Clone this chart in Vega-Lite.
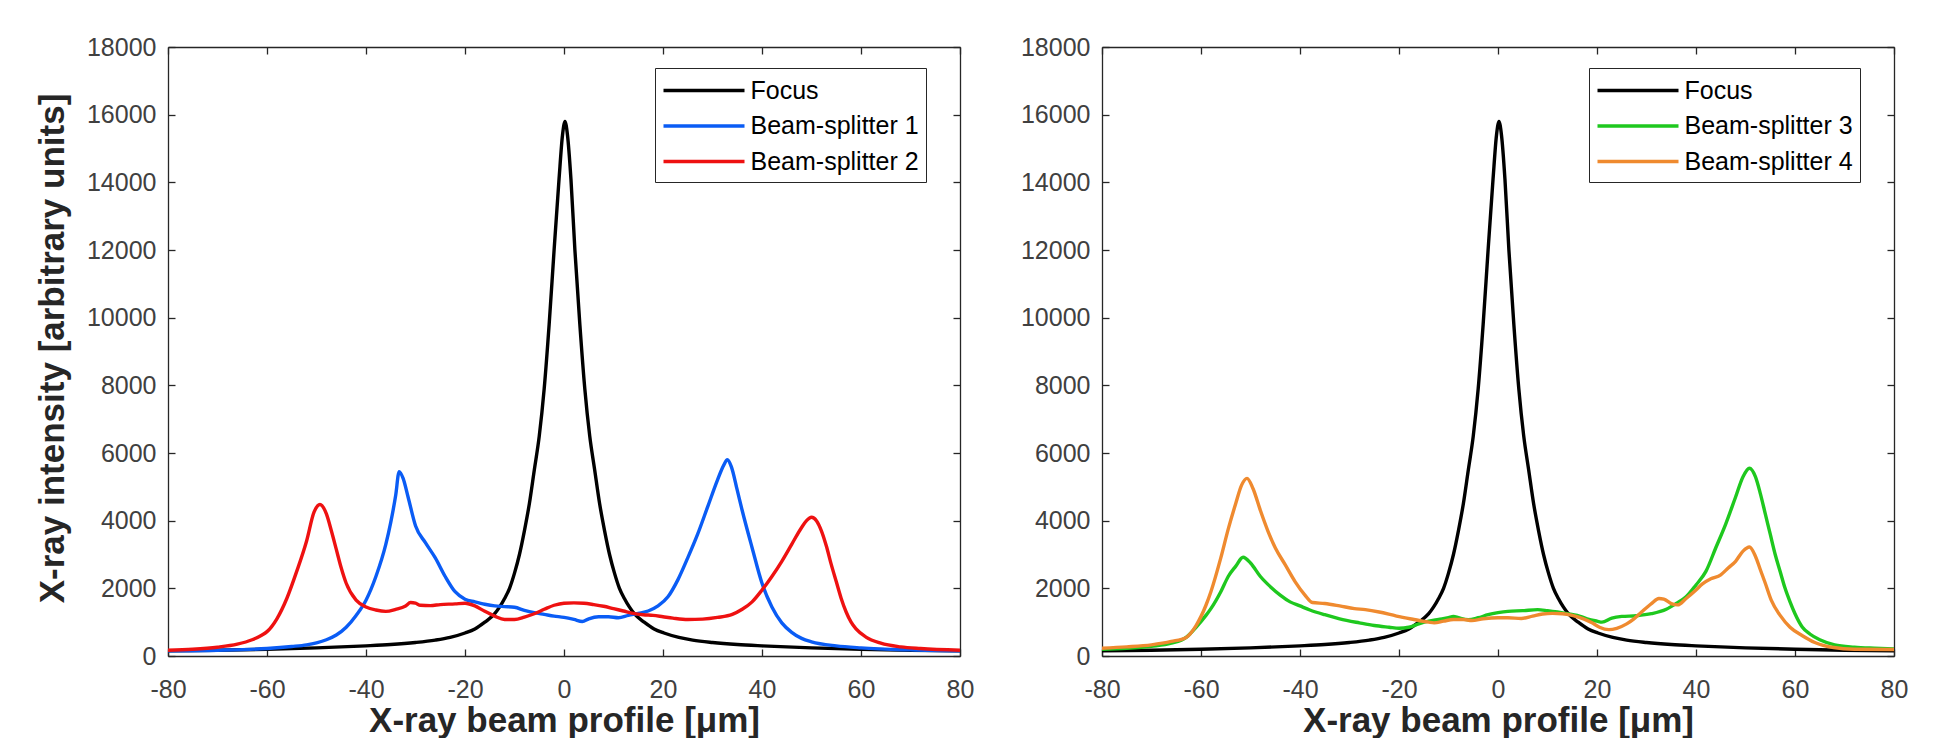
{
  "$schema": "https://vega.github.io/schema/vega-lite/v6.json",
  "background": "white",
  "padding": {"left": 35, "top": 35, "right": 10, "bottom": 0},
  "spacing": 142,
  "bounds": "flush",
  "resolve": {"scale": {"color": "independent"}, "legend": {"color": "independent"}},
  "datasets": {
    "profiles": [
      {"x":-80,"y":150,"series":"Focus"},{"x":-70,"y":170,"series":"Focus"},{"x":-60,"y":200,"series":"Focus"},{"x":-50,"y":240,"series":"Focus"},{"x":-40,"y":300,"series":"Focus"},{"x":-35,"y":340,"series":"Focus"},{"x":-30,"y":400,"series":"Focus"},{"x":-26,"y":470,"series":"Focus"},{"x":-23,"y":550,"series":"Focus"},{"x":-20,"y":680,"series":"Focus"},{"x":-18,"y":800,"series":"Focus"},{"x":-16,"y":1000,"series":"Focus"},{"x":-14,"y":1250,"series":"Focus"},{"x":-13,"y":1450,"series":"Focus"},{"x":-12,"y":1700,"series":"Focus"},{"x":-11,"y":2000,"series":"Focus"},{"x":-10,"y":2450,"series":"Focus"},{"x":-9,"y":3000,"series":"Focus"},{"x":-8,"y":3700,"series":"Focus"},{"x":-7,"y":4500,"series":"Focus"},{"x":-6,"y":5500,"series":"Focus"},{"x":-5,"y":6500,"series":"Focus"},{"x":-4,"y":7900,"series":"Focus"},{"x":-3,"y":9800,"series":"Focus"},{"x":-2,"y":12000,"series":"Focus"},{"x":-1,"y":14100,"series":"Focus"},{"x":-0.3,"y":15400,"series":"Focus"},{"x":0.2,"y":15800,"series":"Focus"},{"x":0.7,"y":15400,"series":"Focus"},{"x":1.4,"y":14100,"series":"Focus"},{"x":2.2,"y":12000,"series":"Focus"},{"x":3.2,"y":9800,"series":"Focus"},{"x":4.2,"y":7900,"series":"Focus"},{"x":5.2,"y":6500,"series":"Focus"},{"x":6.2,"y":5500,"series":"Focus"},{"x":7.2,"y":4500,"series":"Focus"},{"x":8.2,"y":3700,"series":"Focus"},{"x":9.2,"y":3000,"series":"Focus"},{"x":10.2,"y":2450,"series":"Focus"},{"x":11.2,"y":2000,"series":"Focus"},{"x":12.2,"y":1700,"series":"Focus"},{"x":13.2,"y":1450,"series":"Focus"},{"x":14.2,"y":1250,"series":"Focus"},{"x":16.2,"y":1000,"series":"Focus"},{"x":18.2,"y":800,"series":"Focus"},{"x":20.2,"y":680,"series":"Focus"},{"x":23.2,"y":550,"series":"Focus"},{"x":26,"y":470,"series":"Focus"},{"x":30,"y":400,"series":"Focus"},{"x":35,"y":340,"series":"Focus"},{"x":40,"y":300,"series":"Focus"},{"x":50,"y":240,"series":"Focus"},{"x":60,"y":200,"series":"Focus"},{"x":70,"y":170,"series":"Focus"},{"x":80,"y":150,"series":"Focus"},

      {"x":-80,"y":150,"series":"Beam-splitter 1"},{"x":-70,"y":170,"series":"Beam-splitter 1"},{"x":-60,"y":220,"series":"Beam-splitter 1"},{"x":-55,"y":280,"series":"Beam-splitter 1"},{"x":-52,"y":330,"series":"Beam-splitter 1"},{"x":-50,"y":390,"series":"Beam-splitter 1"},{"x":-48,"y":480,"series":"Beam-splitter 1"},{"x":-46,"y":620,"series":"Beam-splitter 1"},{"x":-44,"y":850,"series":"Beam-splitter 1"},{"x":-42,"y":1200,"series":"Beam-splitter 1"},{"x":-40,"y":1650,"series":"Beam-splitter 1"},{"x":-38,"y":2350,"series":"Beam-splitter 1"},{"x":-36,"y":3300,"series":"Beam-splitter 1"},{"x":-35,"y":3950,"series":"Beam-splitter 1"},{"x":-34,"y":4750,"series":"Beam-splitter 1"},{"x":-33.3,"y":5450,"series":"Beam-splitter 1"},{"x":-32.5,"y":5250,"series":"Beam-splitter 1"},{"x":-31.5,"y":4700,"series":"Beam-splitter 1"},{"x":-30,"y":3850,"series":"Beam-splitter 1"},{"x":-28,"y":3350,"series":"Beam-splitter 1"},{"x":-26,"y":2900,"series":"Beam-splitter 1"},{"x":-24,"y":2350,"series":"Beam-splitter 1"},{"x":-22,"y":1900,"series":"Beam-splitter 1"},{"x":-20,"y":1680,"series":"Beam-splitter 1"},{"x":-18,"y":1600,"series":"Beam-splitter 1"},{"x":-16,"y":1530,"series":"Beam-splitter 1"},{"x":-14,"y":1480,"series":"Beam-splitter 1"},{"x":-12,"y":1460,"series":"Beam-splitter 1"},{"x":-10,"y":1440,"series":"Beam-splitter 1"},{"x":-8,"y":1350,"series":"Beam-splitter 1"},{"x":-6,"y":1280,"series":"Beam-splitter 1"},{"x":-4,"y":1230,"series":"Beam-splitter 1"},{"x":-2,"y":1180,"series":"Beam-splitter 1"},{"x":0,"y":1140,"series":"Beam-splitter 1"},{"x":2,"y":1080,"series":"Beam-splitter 1"},{"x":3.7,"y":1020,"series":"Beam-splitter 1"},{"x":5,"y":1100,"series":"Beam-splitter 1"},{"x":7,"y":1160,"series":"Beam-splitter 1"},{"x":9,"y":1160,"series":"Beam-splitter 1"},{"x":11,"y":1130,"series":"Beam-splitter 1"},{"x":13,"y":1200,"series":"Beam-splitter 1"},{"x":15,"y":1260,"series":"Beam-splitter 1"},{"x":17,"y":1330,"series":"Beam-splitter 1"},{"x":19,"y":1480,"series":"Beam-splitter 1"},{"x":21,"y":1750,"series":"Beam-splitter 1"},{"x":23,"y":2250,"series":"Beam-splitter 1"},{"x":25,"y":2900,"series":"Beam-splitter 1"},{"x":27,"y":3600,"series":"Beam-splitter 1"},{"x":29,"y":4400,"series":"Beam-splitter 1"},{"x":31,"y":5200,"series":"Beam-splitter 1"},{"x":32.3,"y":5650,"series":"Beam-splitter 1"},{"x":33,"y":5800,"series":"Beam-splitter 1"},{"x":33.8,"y":5600,"series":"Beam-splitter 1"},{"x":35,"y":4900,"series":"Beam-splitter 1"},{"x":36,"y":4300,"series":"Beam-splitter 1"},{"x":38,"y":3200,"series":"Beam-splitter 1"},{"x":40,"y":2150,"series":"Beam-splitter 1"},{"x":42,"y":1450,"series":"Beam-splitter 1"},{"x":44,"y":980,"series":"Beam-splitter 1"},{"x":46,"y":700,"series":"Beam-splitter 1"},{"x":48,"y":520,"series":"Beam-splitter 1"},{"x":50,"y":420,"series":"Beam-splitter 1"},{"x":55,"y":300,"series":"Beam-splitter 1"},{"x":60,"y":240,"series":"Beam-splitter 1"},{"x":70,"y":180,"series":"Beam-splitter 1"},{"x":80,"y":150,"series":"Beam-splitter 1"},

      {"x":-80,"y":170,"series":"Beam-splitter 2"},{"x":-75,"y":200,"series":"Beam-splitter 2"},{"x":-70,"y":260,"series":"Beam-splitter 2"},{"x":-66,"y":350,"series":"Beam-splitter 2"},{"x":-63,"y":480,"series":"Beam-splitter 2"},{"x":-61,"y":620,"series":"Beam-splitter 2"},{"x":-60,"y":720,"series":"Beam-splitter 2"},{"x":-58,"y":1100,"series":"Beam-splitter 2"},{"x":-56,"y":1700,"series":"Beam-splitter 2"},{"x":-54,"y":2500,"series":"Beam-splitter 2"},{"x":-52,"y":3400,"series":"Beam-splitter 2"},{"x":-50.5,"y":4250,"series":"Beam-splitter 2"},{"x":-49.3,"y":4480,"series":"Beam-splitter 2"},{"x":-48,"y":4200,"series":"Beam-splitter 2"},{"x":-47,"y":3700,"series":"Beam-splitter 2"},{"x":-46,"y":3150,"series":"Beam-splitter 2"},{"x":-45,"y":2600,"series":"Beam-splitter 2"},{"x":-44,"y":2150,"series":"Beam-splitter 2"},{"x":-42,"y":1650,"series":"Beam-splitter 2"},{"x":-40,"y":1450,"series":"Beam-splitter 2"},{"x":-38,"y":1360,"series":"Beam-splitter 2"},{"x":-36,"y":1320,"series":"Beam-splitter 2"},{"x":-34,"y":1380,"series":"Beam-splitter 2"},{"x":-32,"y":1480,"series":"Beam-splitter 2"},{"x":-31,"y":1580,"series":"Beam-splitter 2"},{"x":-30,"y":1560,"series":"Beam-splitter 2"},{"x":-29,"y":1500,"series":"Beam-splitter 2"},{"x":-27,"y":1490,"series":"Beam-splitter 2"},{"x":-25,"y":1520,"series":"Beam-splitter 2"},{"x":-22,"y":1540,"series":"Beam-splitter 2"},{"x":-20,"y":1560,"series":"Beam-splitter 2"},{"x":-18,"y":1480,"series":"Beam-splitter 2"},{"x":-16,"y":1320,"series":"Beam-splitter 2"},{"x":-14,"y":1180,"series":"Beam-splitter 2"},{"x":-12,"y":1080,"series":"Beam-splitter 2"},{"x":-10,"y":1080,"series":"Beam-splitter 2"},{"x":-8,"y":1150,"series":"Beam-splitter 2"},{"x":-6,"y":1250,"series":"Beam-splitter 2"},{"x":-4,"y":1380,"series":"Beam-splitter 2"},{"x":-2,"y":1500,"series":"Beam-splitter 2"},{"x":0,"y":1560,"series":"Beam-splitter 2"},{"x":2,"y":1570,"series":"Beam-splitter 2"},{"x":4,"y":1560,"series":"Beam-splitter 2"},{"x":6,"y":1520,"series":"Beam-splitter 2"},{"x":8,"y":1470,"series":"Beam-splitter 2"},{"x":10,"y":1400,"series":"Beam-splitter 2"},{"x":12,"y":1330,"series":"Beam-splitter 2"},{"x":14,"y":1260,"series":"Beam-splitter 2"},{"x":16,"y":1220,"series":"Beam-splitter 2"},{"x":18,"y":1200,"series":"Beam-splitter 2"},{"x":20,"y":1160,"series":"Beam-splitter 2"},{"x":22,"y":1120,"series":"Beam-splitter 2"},{"x":25,"y":1080,"series":"Beam-splitter 2"},{"x":28,"y":1090,"series":"Beam-splitter 2"},{"x":31,"y":1140,"series":"Beam-splitter 2"},{"x":34,"y":1230,"series":"Beam-splitter 2"},{"x":36,"y":1380,"series":"Beam-splitter 2"},{"x":38,"y":1600,"series":"Beam-splitter 2"},{"x":40,"y":1950,"series":"Beam-splitter 2"},{"x":42,"y":2350,"series":"Beam-splitter 2"},{"x":44,"y":2800,"series":"Beam-splitter 2"},{"x":46,"y":3300,"series":"Beam-splitter 2"},{"x":48,"y":3800,"series":"Beam-splitter 2"},{"x":49,"y":4000,"series":"Beam-splitter 2"},{"x":50,"y":4100,"series":"Beam-splitter 2"},{"x":51,"y":4000,"series":"Beam-splitter 2"},{"x":52,"y":3700,"series":"Beam-splitter 2"},{"x":53,"y":3250,"series":"Beam-splitter 2"},{"x":54,"y":2700,"series":"Beam-splitter 2"},{"x":55,"y":2200,"series":"Beam-splitter 2"},{"x":56,"y":1700,"series":"Beam-splitter 2"},{"x":57,"y":1300,"series":"Beam-splitter 2"},{"x":58,"y":1000,"series":"Beam-splitter 2"},{"x":59,"y":800,"series":"Beam-splitter 2"},{"x":61,"y":560,"series":"Beam-splitter 2"},{"x":64,"y":380,"series":"Beam-splitter 2"},{"x":68,"y":270,"series":"Beam-splitter 2"},{"x":72,"y":220,"series":"Beam-splitter 2"},{"x":80,"y":170,"series":"Beam-splitter 2"},

      {"x":-80,"y":200,"series":"Beam-splitter 3"},{"x":-75,"y":230,"series":"Beam-splitter 3"},{"x":-70,"y":290,"series":"Beam-splitter 3"},{"x":-66,"y":380,"series":"Beam-splitter 3"},{"x":-63,"y":550,"series":"Beam-splitter 3"},{"x":-61,"y":850,"series":"Beam-splitter 3"},{"x":-59,"y":1200,"series":"Beam-splitter 3"},{"x":-58,"y":1400,"series":"Beam-splitter 3"},{"x":-56,"y":1900,"series":"Beam-splitter 3"},{"x":-54.5,"y":2350,"series":"Beam-splitter 3"},{"x":-53,"y":2650,"series":"Beam-splitter 3"},{"x":-51.5,"y":2920,"series":"Beam-splitter 3"},{"x":-50,"y":2750,"series":"Beam-splitter 3"},{"x":-48,"y":2350,"series":"Beam-splitter 3"},{"x":-46,"y":2050,"series":"Beam-splitter 3"},{"x":-44,"y":1800,"series":"Beam-splitter 3"},{"x":-42,"y":1600,"series":"Beam-splitter 3"},{"x":-40,"y":1480,"series":"Beam-splitter 3"},{"x":-38,"y":1360,"series":"Beam-splitter 3"},{"x":-35,"y":1220,"series":"Beam-splitter 3"},{"x":-32,"y":1100,"series":"Beam-splitter 3"},{"x":-28,"y":980,"series":"Beam-splitter 3"},{"x":-25,"y":900,"series":"Beam-splitter 3"},{"x":-22,"y":850,"series":"Beam-splitter 3"},{"x":-20,"y":820,"series":"Beam-splitter 3"},{"x":-18,"y":850,"series":"Beam-splitter 3"},{"x":-16,"y":950,"series":"Beam-splitter 3"},{"x":-14,"y":1030,"series":"Beam-splitter 3"},{"x":-12,"y":1080,"series":"Beam-splitter 3"},{"x":-10,"y":1130,"series":"Beam-splitter 3"},{"x":-9,"y":1170,"series":"Beam-splitter 3"},{"x":-8,"y":1130,"series":"Beam-splitter 3"},{"x":-6,"y":1070,"series":"Beam-splitter 3"},{"x":-4,"y":1130,"series":"Beam-splitter 3"},{"x":-2,"y":1220,"series":"Beam-splitter 3"},{"x":0,"y":1280,"series":"Beam-splitter 3"},{"x":2,"y":1320,"series":"Beam-splitter 3"},{"x":5,"y":1340,"series":"Beam-splitter 3"},{"x":8,"y":1370,"series":"Beam-splitter 3"},{"x":10,"y":1340,"series":"Beam-splitter 3"},{"x":12,"y":1300,"series":"Beam-splitter 3"},{"x":14,"y":1250,"series":"Beam-splitter 3"},{"x":16,"y":1200,"series":"Beam-splitter 3"},{"x":18,"y":1100,"series":"Beam-splitter 3"},{"x":20,"y":1030,"series":"Beam-splitter 3"},{"x":21,"y":1000,"series":"Beam-splitter 3"},{"x":23,"y":1120,"series":"Beam-splitter 3"},{"x":25,"y":1170,"series":"Beam-splitter 3"},{"x":28,"y":1190,"series":"Beam-splitter 3"},{"x":31,"y":1250,"series":"Beam-splitter 3"},{"x":34,"y":1380,"series":"Beam-splitter 3"},{"x":36,"y":1550,"series":"Beam-splitter 3"},{"x":38,"y":1750,"series":"Beam-splitter 3"},{"x":40,"y":2100,"series":"Beam-splitter 3"},{"x":42,"y":2500,"series":"Beam-splitter 3"},{"x":44,"y":3200,"series":"Beam-splitter 3"},{"x":46,"y":3900,"series":"Beam-splitter 3"},{"x":48,"y":4700,"series":"Beam-splitter 3"},{"x":49.5,"y":5300,"series":"Beam-splitter 3"},{"x":50.8,"y":5550,"series":"Beam-splitter 3"},{"x":52,"y":5300,"series":"Beam-splitter 3"},{"x":53,"y":4800,"series":"Beam-splitter 3"},{"x":54,"y":4200,"series":"Beam-splitter 3"},{"x":55,"y":3600,"series":"Beam-splitter 3"},{"x":56,"y":3000,"series":"Beam-splitter 3"},{"x":57,"y":2500,"series":"Beam-splitter 3"},{"x":58,"y":2000,"series":"Beam-splitter 3"},{"x":59,"y":1600,"series":"Beam-splitter 3"},{"x":60,"y":1250,"series":"Beam-splitter 3"},{"x":61.5,"y":850,"series":"Beam-splitter 3"},{"x":63,"y":650,"series":"Beam-splitter 3"},{"x":65,"y":480,"series":"Beam-splitter 3"},{"x":68,"y":330,"series":"Beam-splitter 3"},{"x":72,"y":260,"series":"Beam-splitter 3"},{"x":76,"y":230,"series":"Beam-splitter 3"},{"x":80,"y":210,"series":"Beam-splitter 3"},

      {"x":-80,"y":230,"series":"Beam-splitter 4"},{"x":-75,"y":270,"series":"Beam-splitter 4"},{"x":-70,"y":330,"series":"Beam-splitter 4"},{"x":-66,"y":430,"series":"Beam-splitter 4"},{"x":-63,"y":550,"series":"Beam-splitter 4"},{"x":-61,"y":900,"series":"Beam-splitter 4"},{"x":-59,"y":1500,"series":"Beam-splitter 4"},{"x":-58,"y":1900,"series":"Beam-splitter 4"},{"x":-56,"y":2900,"series":"Beam-splitter 4"},{"x":-54.5,"y":3750,"series":"Beam-splitter 4"},{"x":-53,"y":4500,"series":"Beam-splitter 4"},{"x":-51.8,"y":5050,"series":"Beam-splitter 4"},{"x":-50.7,"y":5250,"series":"Beam-splitter 4"},{"x":-49.5,"y":4950,"series":"Beam-splitter 4"},{"x":-48,"y":4300,"series":"Beam-splitter 4"},{"x":-46.5,"y":3700,"series":"Beam-splitter 4"},{"x":-45,"y":3200,"series":"Beam-splitter 4"},{"x":-43,"y":2700,"series":"Beam-splitter 4"},{"x":-41,"y":2200,"series":"Beam-splitter 4"},{"x":-39,"y":1800,"series":"Beam-splitter 4"},{"x":-37.5,"y":1580,"series":"Beam-splitter 4"},{"x":-35,"y":1550,"series":"Beam-splitter 4"},{"x":-32,"y":1480,"series":"Beam-splitter 4"},{"x":-29,"y":1400,"series":"Beam-splitter 4"},{"x":-26.8,"y":1370,"series":"Beam-splitter 4"},{"x":-24,"y":1300,"series":"Beam-splitter 4"},{"x":-20.5,"y":1180,"series":"Beam-splitter 4"},{"x":-17,"y":1080,"series":"Beam-splitter 4"},{"x":-14,"y":1000,"series":"Beam-splitter 4"},{"x":-12.9,"y":980,"series":"Beam-splitter 4"},{"x":-11,"y":1030,"series":"Beam-splitter 4"},{"x":-9,"y":1080,"series":"Beam-splitter 4"},{"x":-7,"y":1080,"series":"Beam-splitter 4"},{"x":-5.3,"y":1050,"series":"Beam-splitter 4"},{"x":-3,"y":1100,"series":"Beam-splitter 4"},{"x":0,"y":1130,"series":"Beam-splitter 4"},{"x":2,"y":1130,"series":"Beam-splitter 4"},{"x":4.7,"y":1110,"series":"Beam-splitter 4"},{"x":7,"y":1180,"series":"Beam-splitter 4"},{"x":9,"y":1240,"series":"Beam-splitter 4"},{"x":11,"y":1260,"series":"Beam-splitter 4"},{"x":13,"y":1250,"series":"Beam-splitter 4"},{"x":15,"y":1200,"series":"Beam-splitter 4"},{"x":17.4,"y":1090,"series":"Beam-splitter 4"},{"x":19,"y":980,"series":"Beam-splitter 4"},{"x":20.5,"y":850,"series":"Beam-splitter 4"},{"x":22.4,"y":780,"series":"Beam-splitter 4"},{"x":24,"y":820,"series":"Beam-splitter 4"},{"x":26,"y":950,"series":"Beam-splitter 4"},{"x":27.4,"y":1090,"series":"Beam-splitter 4"},{"x":29,"y":1300,"series":"Beam-splitter 4"},{"x":31,"y":1550,"series":"Beam-splitter 4"},{"x":32.5,"y":1700,"series":"Beam-splitter 4"},{"x":33.5,"y":1680,"series":"Beam-splitter 4"},{"x":35,"y":1550,"series":"Beam-splitter 4"},{"x":36.3,"y":1510,"series":"Beam-splitter 4"},{"x":38,"y":1700,"series":"Beam-splitter 4"},{"x":40,"y":1950,"series":"Beam-splitter 4"},{"x":41.3,"y":2130,"series":"Beam-splitter 4"},{"x":43,"y":2280,"series":"Beam-splitter 4"},{"x":45,"y":2400,"series":"Beam-splitter 4"},{"x":46.5,"y":2600,"series":"Beam-splitter 4"},{"x":48,"y":2800,"series":"Beam-splitter 4"},{"x":49.5,"y":3100,"series":"Beam-splitter 4"},{"x":50.8,"y":3220,"series":"Beam-splitter 4"},{"x":52,"y":2950,"series":"Beam-splitter 4"},{"x":53,"y":2550,"series":"Beam-splitter 4"},{"x":54,"y":2150,"series":"Beam-splitter 4"},{"x":55.2,"y":1650,"series":"Beam-splitter 4"},{"x":57,"y":1200,"series":"Beam-splitter 4"},{"x":59,"y":850,"series":"Beam-splitter 4"},{"x":61.5,"y":600,"series":"Beam-splitter 4"},{"x":64,"y":400,"series":"Beam-splitter 4"},{"x":67.8,"y":250,"series":"Beam-splitter 4"},{"x":72,"y":200,"series":"Beam-splitter 4"},{"x":80,"y":190,"series":"Beam-splitter 4"}
    ]
  },
  "hconcat": [
    {
      "width": 792,
      "height": 609,
      "data": {"name": "profiles"},
      "transform": [{"filter": {"field": "series", "oneOf": ["Focus", "Beam-splitter 1", "Beam-splitter 2"]}}],
      "layer": [
        {
          "mark": {"type": "line", "strokeWidth": 3.4, "interpolate": "monotone", "clip": true},
          "encoding": {
            "x": {"field": "x", "type": "quantitative", "scale": {"domain": [-80, 80], "nice": false, "zero": false},
              "axis": {"orient": "bottom", "values": [-80, -60, -40, -20, 0, 20, 40, 60, 80], "labelExpr": "datum.value + ''", "tickSize": -7, "labelPadding": 28, "labelFlush": false, "labelOverlap": false,
                "title": "X-ray beam profile [μm]", "titleX": 396, "titleY": 75, "titleAlign": "center", "titleBaseline": "alphabetic"}},
            "y": {"field": "y", "type": "quantitative", "scale": {"domain": [0, 18000], "nice": false},
              "axis": {"orient": "left", "values": [0, 2000, 4000, 6000, 8000, 10000, 12000, 14000, 16000, 18000], "labelExpr": "datum.value + ''", "tickSize": -7, "labelPadding": 19, "labelOverlap": false,
                "title": "X-ray intensity [arbitrary units]", "titleX": -116, "titleY": 301, "titleAngle": 270, "titleAlign": "center", "titleBaseline": "middle"}},
            "color": {"field": "series", "type": "nominal",
              "scale": {"domain": ["Focus", "Beam-splitter 1", "Beam-splitter 2"], "range": ["#000000", "#0a5cf5", "#ee1111"]},
              "legend": {"orient": "none", "legendX": 487, "legendY": 21, "title": null}}
          }
        },
        {
          "mark": {"type": "line", "opacity": 0},
          "encoding": {
            "x": {"field": "x", "type": "quantitative", "axis": {"orient": "top", "values": [-80, -60, -40, -20, 0, 20, 40, 60, 80], "labels": false, "title": null, "tickSize": -7}},
            "y": {"field": "y", "type": "quantitative", "axis": {"orient": "right", "values": [0, 2000, 4000, 6000, 8000, 10000, 12000, 14000, 16000, 18000], "labels": false, "title": null, "tickSize": -7}},
            "detail": {"field": "series"}
          }
        }
      ],
      "resolve": {"axis": {"x": "independent", "y": "independent"}}
    },
    {
      "width": 792,
      "height": 609,
      "data": {"name": "profiles"},
      "transform": [{"filter": {"field": "series", "oneOf": ["Focus", "Beam-splitter 3", "Beam-splitter 4"]}}],
      "layer": [
        {
          "mark": {"type": "line", "strokeWidth": 3.4, "interpolate": "monotone", "clip": true},
          "encoding": {
            "x": {"field": "x", "type": "quantitative", "scale": {"domain": [-80, 80], "nice": false, "zero": false},
              "axis": {"orient": "bottom", "values": [-80, -60, -40, -20, 0, 20, 40, 60, 80], "labelExpr": "datum.value + ''", "tickSize": -7, "labelPadding": 28, "labelFlush": false, "labelOverlap": false,
                "title": "X-ray beam profile [μm]", "titleX": 396, "titleY": 75, "titleAlign": "center", "titleBaseline": "alphabetic"}},
            "y": {"field": "y", "type": "quantitative", "scale": {"domain": [0, 18000], "nice": false},
              "axis": {"orient": "left", "values": [0, 2000, 4000, 6000, 8000, 10000, 12000, 14000, 16000, 18000], "labelExpr": "datum.value + ''", "tickSize": -7, "labelPadding": 19, "labelOverlap": false, "title": null}},
            "color": {"field": "series", "type": "nominal",
              "scale": {"domain": ["Focus", "Beam-splitter 3", "Beam-splitter 4"], "range": ["#000000", "#1ec81e", "#ef8a2f"]},
              "legend": {"orient": "none", "legendX": 487, "legendY": 21, "title": null}}
          }
        },
        {
          "mark": {"type": "line", "opacity": 0},
          "encoding": {
            "x": {"field": "x", "type": "quantitative", "axis": {"orient": "top", "values": [-80, -60, -40, -20, 0, 20, 40, 60, 80], "labels": false, "title": null, "tickSize": -7}},
            "y": {"field": "y", "type": "quantitative", "axis": {"orient": "right", "values": [0, 2000, 4000, 6000, 8000, 10000, 12000, 14000, 16000, 18000], "labels": false, "title": null, "tickSize": -7}},
            "detail": {"field": "series"}
          }
        }
      ],
      "resolve": {"axis": {"x": "independent", "y": "independent"}}
    }
  ],
  "config": {
    "font": "Liberation Sans",
    "view": {"stroke": null},
    "axis": {
      "grid": false,
      "domainColor": "#262626", "domainWidth": 1.3,
      "tickColor": "#262626", "tickWidth": 1.3,
      "labelColor": "#404040", "labelFont": "Liberation Sans", "labelFontSize": 25,
      "titleFont": "Liberation Sans", "titleFontSize": 35, "titleFontWeight": "bold", "titleColor": "#262626"
    },
    "legend": {
      "symbolType": "M-3,0H3", "symbolSize": 729, "symbolStrokeWidth": 3.4, "symbolOpacity": 1, "symbolOffset": 26.5,
      "labelFont": "Liberation Sans", "labelFontSize": 25, "labelColor": "#000000", "labelLimit": 400, "labelOffset": 31,
      "padding": 7, "rowPadding": 6.5, "strokeColor": "#262626", "fillColor": "#ffffff"
    }
  }
}
